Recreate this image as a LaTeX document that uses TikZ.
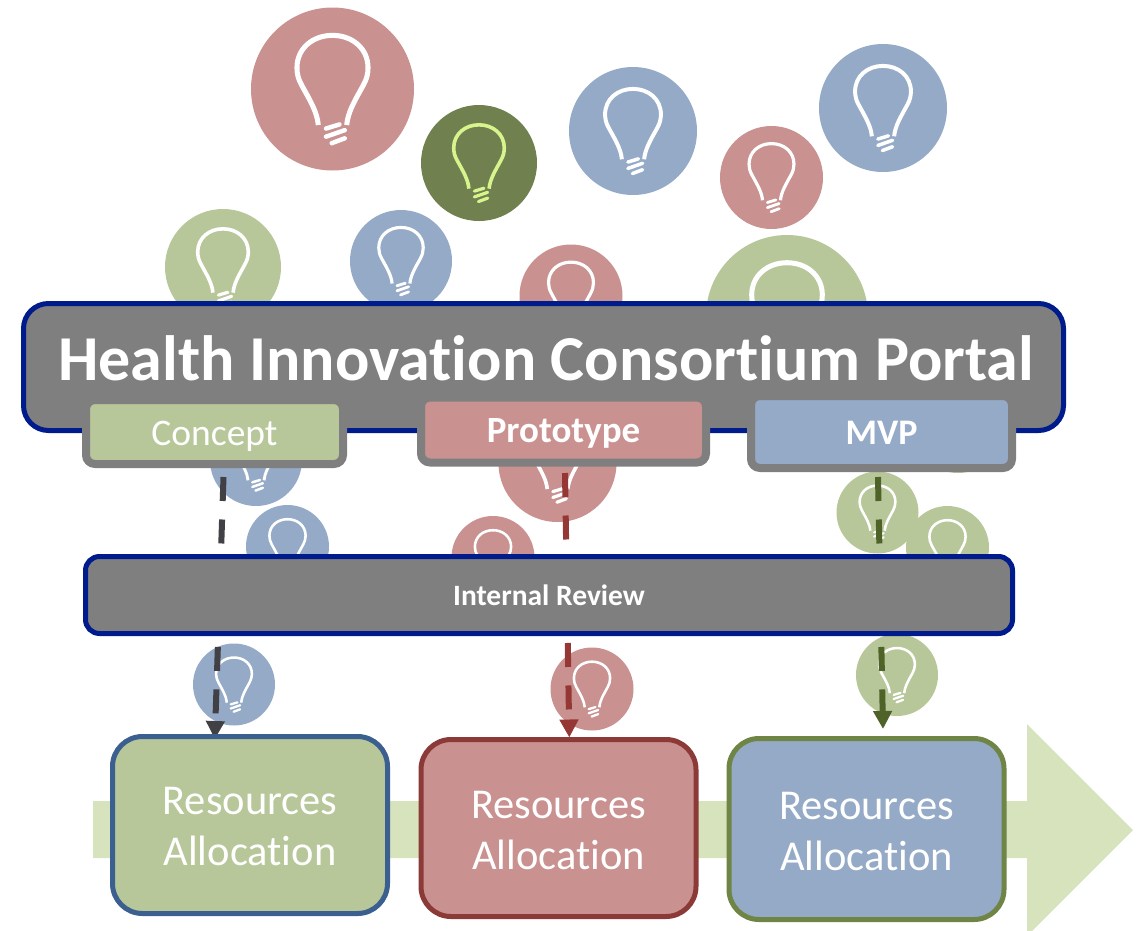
\documentclass[tikz,border=0pt]{standalone}
\usepackage{fontspec}
\setmainfont[RawFeature=-liga]{Carlito}
\usetikzlibrary{arrows.meta}
\definecolor{cred}{HTML}{C9918F}
\definecolor{cblue}{HTML}{94AAC7}
\definecolor{cgreen}{HTML}{B7C79A}
\definecolor{cdark}{HTML}{70804F}
\definecolor{cbright}{HTML}{D7F48D}
\definecolor{navy}{HTML}{001C8C}
\definecolor{gbox}{HTML}{7F7F7F}
\definecolor{lgreen}{HTML}{D7E3BC}
\definecolor{sblue}{HTML}{3B5F8E}
\definecolor{sred}{HTML}{8C3A38}
\definecolor{sgreen}{HTML}{6F8545}
\definecolor{dgray}{HTML}{404045}
\definecolor{dred}{HTML}{953735}
\definecolor{dgreen}{HTML}{4F6228}
\tikzset{
  idea/.style={circle,fill=#1,draw=none,inner sep=0pt},
  banner/.style={draw=navy,fill=gbox,line width=5pt,text=white,font=\bfseries},
  tab/.style={draw=gbox,line width=8pt,rounded corners=9pt,text=white,inner sep=0pt,minimum width=#1},
  resbox/.style={line width=5pt,rounded corners=30pt,text=white,inner sep=0pt,minimum width=275pt,font=\fontsize{42.5}{51.5}\selectfont},
  flowdash/.style={line width=6pt,dash pattern=on 24pt off 18.5pt,-{Triangle[length=18pt,width=18pt,sep=0pt]}}
}
\newcommand{\bulbicon}[6]{%
  \node[idea=#5,minimum size=#4*2pt] (#1) at (#2,#3) {};
  \pgfmathsetmacro{\lwa}{#4*0.062}
  \pgfmathsetmacro{\lwb}{#4*0.055}
  \begin{scope}[shift={(#2,#3)},x=#4pt,y=#4pt,draw=#6,line join=round]
    \draw[line width=\lwa pt] (-0.174,-0.442) .. controls (-0.19,-0.28) and (-0.27,-0.15) .. (-0.38,0.05)
      .. controls (-0.42,0.12) and (-0.436,0.19) .. (-0.436,0.26)
      .. controls (-0.436,0.5) and (-0.24,0.658) .. (0,0.658)
      .. controls (0.24,0.658) and (0.436,0.5) .. (0.436,0.26)
      .. controls (0.436,0.19) and (0.42,0.12) .. (0.38,0.05)
      .. controls (0.27,-0.15) and (0.19,-0.28) .. (0.174,-0.442);
    \draw[line width=\lwb pt,line cap=round] (-0.08,-0.485) -- (0.085,-0.435);
    \draw[line width=\lwb pt,line cap=round] (-0.08,-0.585) -- (0.15,-0.505);
    \draw[line width=\lwb pt,line cap=round] (-0.01,-0.665) -- (0.15,-0.605);
  \end{scope}}
\newcommand{\drop}[2]{\raisebox{-#1pt}[0pt][0pt]{#2}}
\newcommand{\restext}[1]{\drop{#1}{\begin{tabular}[b]{@{}c@{}}Resources\\Allocation\end{tabular}}}
\begin{document}
\begin{tikzpicture}[x=1pt,y=-1pt]
\useasboundingbox (0,0) rectangle (1138,930);
\begin{scope}
\clip (0,0) rectangle (1138,930);
% process arrow
\fill[lgreen] (93,801) -- (1027,801) -- (1027,724) -- (1133,830) -- (1027,936) -- (1027,858) -- (93,858) -- cycle;
\end{scope}
% idea bulbs
\bulbicon{b1}{332.5}{89}{81.5}{cred}{white}
\bulbicon{b2}{479}{163}{58}{cdark}{cbright}
\bulbicon{b3}{633}{131}{64}{cblue}{white}
\bulbicon{b4}{771.5}{177.5}{51.5}{cred}{white}
\bulbicon{b5}{883}{108}{64}{cblue}{white}
\bulbicon{b6}{223}{267}{58}{cgreen}{white}
\bulbicon{b7}{401}{261}{51}{cblue}{white}
\bulbicon{b8}{571}{296}{51.5}{cred}{white}
\bulbicon{b9}{787}{316}{81}{cgreen}{white}
\bulbicon{b10}{256}{460}{46}{cblue}{white}
\bulbicon{b11}{287.5}{546.5}{41.5}{cblue}{white}
\bulbicon{b12}{557.5}{463}{59}{cred}{white}
\bulbicon{b13}{493}{557.5}{41.5}{cred}{white}
\bulbicon{b14}{877.5}{512.5}{41}{cgreen}{white}
\bulbicon{b15}{947.5}{547.5}{41.5}{cgreen}{white}
\bulbicon{b16}{958}{428}{45}{cgreen}{white}
\bulbicon{b17}{234}{684.5}{41}{cblue}{white}
\bulbicon{b18}{592}{689}{41.5}{cred}{white}
\bulbicon{b19}{897}{675}{41}{cgreen}{white}
% connector ends
\coordinate (c1a) at (223.5,477);
\coordinate (c1b) at (214.8,739);
\coordinate (c2a) at (565,473);
\coordinate (c2b) at (569.3,737.5);
\coordinate (c3a) at (878,477);
\coordinate (c3b) at (883,729);
\draw[flowdash,draw=dgray] (c1a) -- (c1b);
\draw[flowdash,draw=dred] (c2a) -- (c2b);
\draw[flowdash,draw=dgreen] (c3a) -- (c3b);
% portal banner
\node[banner,rounded corners=25pt,minimum width=1040pt,minimum height=127pt,inner sep=0pt] (portal) at (543.5,367) {};
\node[text=white,font=\bfseries\fontsize{64}{74}\selectfont,inner sep=0pt] (title) at (546,358) {Health Innovation Consortium Portal};
% tabs
\node[tab=257pt,fill=cgreen,minimum height=64pt,font=\fontsize{37.5}{44}\selectfont] (concept) at (214.5,432) {\drop{13}{Concept}};
\node[tab=285pt,fill=cred,minimum height=65pt,font=\bfseries\fontsize{37}{43}\selectfont] (proto) at (563.5,430) {\drop{12}{Prototype}};
\node[tab=261pt,fill=cblue,minimum height=72pt,font=\bfseries\fontsize{36}{42}\selectfont] (mvp) at (881.5,432) {\drop{12}{MVP}};
% review
\node[banner,rounded corners=14pt,minimum width=927pt,minimum height=77pt,inner sep=0pt,font=\bfseries\fontsize{29.5}{34}\selectfont] (review) at (549,595) {Internal Review};
% resources
\node[resbox,draw=sblue,fill=cgreen,minimum height=177pt] (r1) at (250,825) {\restext{40.5}};
\node[resbox,draw=sred,fill=cred,minimum height=177pt] (r2) at (558.5,828) {\restext{41.5}};
\node[resbox,draw=sgreen,fill=cblue,minimum height=181pt] (r3) at (866.5,829) {\restext{41.5}};
\end{tikzpicture}
\end{document}
